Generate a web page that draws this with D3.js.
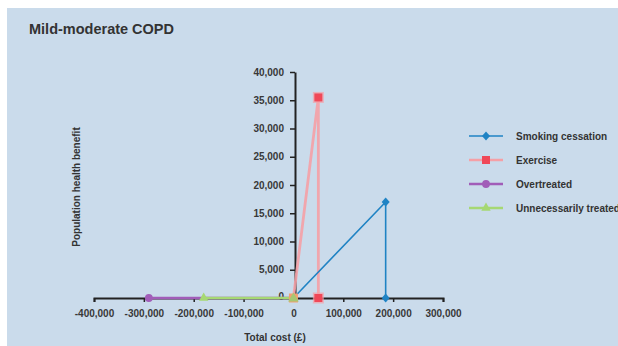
<!DOCTYPE html>
<html><head><meta charset="utf-8">
<script src="https://cdn.jsdelivr.net/npm/d3@7"></script>
<style>
html,body{margin:0;padding:0;background:#fff;}
svg{display:block;font-family:"Liberation Sans",Arial,sans-serif;}
</style></head>
<body>
<svg id="c" width="618" height="346"></svg>
<script>
const xTicks = [-400000,-300000,-200000,-100000,0,100000,200000,300000];
const yTicks = [0,5000,10000,15000,20000,25000,30000,35000,40000];
const seriesNames = ["Smoking cessation","Exercise","Overtreated","Unnecessarily treated"];
const smokingX = [0,185000,185000];
const smokingY = [0,17000,0];
const exerciseX = [0,50000,50000];
const exerciseY = [0,35500,0];
const overX = [-290000,0];
const overY = [0,0];
const unnecX = [-180000,0];
const unnecY = [0,0];

const svg = d3.select("#c");
svg.append("rect").attr("x",7).attr("y",8).attr("width",611).attr("height",338).attr("fill","#cadbeb");

const x = d3.scaleLinear().domain([-400000,300000]).range([94,443]);
const y = d3.scaleLinear().domain([0,40000]).range([298,72]);
const fmt = v => d3.format(",")(v).replace("\u2212","-");

svg.append("text").attr("x",29).attr("y",34).attr("font-size",14.5).attr("font-weight","bold")
  .attr("fill","#333").text("Mild-moderate COPD");

// x axis
const gx = svg.append("g").attr("transform","translate(0,298)")
  .call(d3.axisBottom(x).tickValues(xTicks).tickFormat(fmt).tickSize(4).tickSizeOuter(4).tickPadding(8));
// y axis
const gy = svg.append("g").attr("transform","translate(295,0)")
  .call(d3.axisLeft(y).tickValues(yTicks).tickFormat(fmt).tickSize(5).tickSizeOuter(0).tickPadding(6));
[gx,gy].forEach(g=>{
  g.select(".domain").attr("stroke","#222").attr("stroke-width",2);
  g.selectAll(".tick line").attr("stroke","#222").attr("stroke-width",1.5);
  g.selectAll(".tick text").attr("fill","#383838").attr("font-size",10).attr("font-weight","bold")
   .attr("font-family","Liberation Sans, Arial, sans-serif");
});
gy.selectAll(".tick").filter(d=>d===0).select("text").attr("dy","0.1em");

svg.append("text").attr("x",275).attr("y",341).attr("text-anchor","middle").attr("font-size",10)
  .attr("font-weight","bold").attr("fill","#333").text("Total cost (£)");
svg.append("text").attr("transform","translate(80,187) rotate(-90)").attr("text-anchor","middle")
  .attr("font-size",10).attr("font-weight","bold").attr("fill","#333").text("Population health benefit");

const line = d3.line().x(d=>x(d[0])).y(d=>y(d[1]));
const zip = (a,b)=>a.map((v,i)=>[v,b[i]]);

const styles = [
  {data:zip(smokingX,smokingY), stroke:"#1f83c4", w:1.6, op:1, mark:"diamond", mfill:"#1f83c4", ms:8},
  {data:zip(exerciseX,exerciseY), stroke:"#f5a0a6", w:2.8, op:0.9, mark:"square", mfill:"#f04858", ms:8},
  {data:zip(overX,overY), stroke:"#a15db8", w:2.6, op:1, mark:"circle", mfill:"#a15db8", ms:8},
  {data:zip(unnecX,unnecY), stroke:"#a6d873", w:2.4, op:1, mark:"triangle", mfill:"#a6d873", ms:8}
];
function sym(t,s){
  if(t==="diamond"){ const h=s/2; return `M0,${-h-0.5}L${h},0L0,${h+0.5}L${-h},0Z`; }
  const m = {square:d3.symbolSquare,circle:d3.symbolCircle,triangle:d3.symbolTriangle}[t];
  return d3.symbol().type(m).size(s*s*(t==="circle"?0.75:t==="triangle"?0.6:1))();
}
// draw order: overtreated, unnecessarily, exercise, smoking
[2,3,1,0].forEach(i=>{
  const s = styles[i];
  svg.append("path").attr("d",line(s.data)).attr("fill","none").attr("stroke",s.stroke)
    .attr("stroke-width",s.w).attr("stroke-opacity",s.op).attr("stroke-linejoin","round");
});
// markers
svg.append("path").attr("d",sym("square",9)).attr("transform",`translate(${x(0)},${y(0)})`).attr("fill","#f2a070");
[2,1,0,3].forEach(i=>{
  const s = styles[i];
  s.data.forEach(d=>{
    if(d[0]===0 && d[1]===0) return;
    if(i===1) svg.append("path").attr("d",sym("square",11)).attr("transform",`translate(${x(d[0])},${y(d[1])})`)
      .attr("fill","#f5a0a6").attr("opacity",0.7);
    svg.append("path").attr("d",sym(s.mark,s.ms)).attr("transform",`translate(${x(d[0])},${y(d[1])})`)
      .attr("fill",s.mfill);
  });
});
svg.append("path").attr("d",sym("triangle",9)).attr("transform",`translate(${x(0)},${y(0)+0.5})`).attr("fill","#a6c873");

// legend
const ly = [136,160,184,208];
styles.forEach((s,i)=>{
  const g = svg.append("g").attr("transform",`translate(0,${ly[i]})`);
  g.append("line").attr("x1",469).attr("x2",503).attr("y1",0).attr("y2",0).attr("stroke",s.stroke)
    .attr("stroke-width",i===0?1.6:2.4);
  g.append("path").attr("d",sym(s.mark,s.ms)).attr("transform","translate(486,0)").attr("fill",s.mfill);
  g.append("text").attr("x",516).attr("y",0).attr("dy","0.35em").attr("font-size",10).attr("font-weight","bold")
    .attr("fill","#333").text(seriesNames[i]);
});
</script>
</body></html>
